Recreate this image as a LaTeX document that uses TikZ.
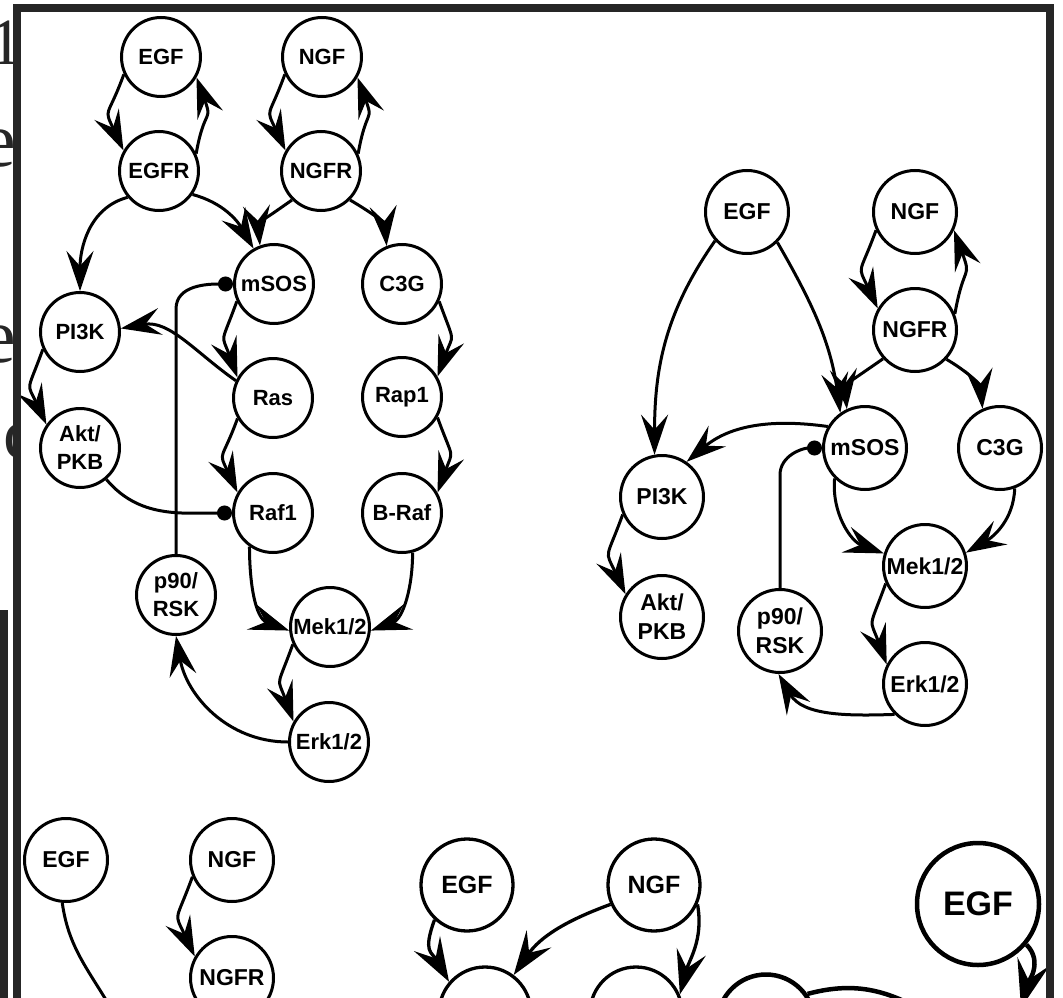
\documentclass[tikz,border=0pt]{standalone}
\usepackage{fontspec}
\setmainfont{Liberation Sans}
\newfontfamily\pagefont{Liberation Serif}
\usepackage{tikz}
\usetikzlibrary{arrows.meta}
\tikzset{>={Stealth[length=40pt,width=27pt,inset=15pt]}}
\definecolor{framegray}{RGB}{38,38,38}
\tikzset{
  prot/.style={circle, draw, line width=3pt, minimum size=79pt, inner sep=0pt, align=center,
    font=\bfseries\fontsize{22}{28}\selectfont},
  protB/.style={prot, minimum size=83pt, font=\bfseries\fontsize{23}{29}\selectfont},
  protD/.style={prot, line width=3.3pt, minimum size=92pt, font=\bfseries\fontsize{25}{30}\selectfont},
  protE/.style={prot, line width=4.5pt, minimum size=97pt, font=\bfseries\fontsize{34}{40}\selectfont},
  act/.style={->, line width=3pt},
  loop/.style={act, looseness=1.6},
  actD/.style={-{Stealth[length=44pt,width=30pt,inset=17pt]}, line width=3.3pt},
  inh/.style={-{Circle[length=15pt]}, line width=3pt},
  frag/.style={anchor=base west, inner sep=0pt, text=framegray}
}

\begin{document}
\begin{tikzpicture}[x=1pt, y=1pt]

  \useasboundingbox (0,0) rectangle (1063,-998);
  \fill[white] (0,0) rectangle (1063,-998);
  \clip (0,0) rectangle (1063,-998);

  % text of the page behind
  \begin{scope}
    \clip (0,0) rectangle (13,-998);
    \node[frag, font=\pagefont\fontsize{66}{66}\selectfont] (pg1) at (-10.6,-65) {1};
    \node[frag, anchor=base east, font=\pagefont\fontsize{78}{78}\selectfont] (pg2) at (16.5,-166) {e};
    \node[frag, anchor=base east, font=\pagefont\fontsize{78}{78}\selectfont] (pg3) at (16.5,-362) {e};
    \node[frag, font=\pagefont\fontsize{74}{74}\selectfont] (pg4) at (3,-458) {c};
  \end{scope}

  % EGF and NGF, top left
  \node[prot] (egfA)  at (161,-57)  {EGF};
  \node[prot] (ngfA)  at (322,-57)  {NGF};
  \node[prot] (egfrA) at (159,-171) {EGFR};
  \node[prot] (ngfrA) at (321,-171) {NGFR};
  \node[prot] (msosA) at (274,-284) {mSOS};
  \node[prot] (c3gA)  at (402,-284) {C3G};
  \node[prot] (pi3kA) at (80,-332)  {PI3K};
  \node[prot] (rasA)  at (273,-398) {Ras};
  \node[prot] (rap1A) at (402,-397) {Rap1};
  \node[prot] (aktA)  at (80,-448)  {Akt/\\PKB};
  \node[prot] (raf1A) at (273,-513) {Raf1};
  \node[prot] (brafA) at (402,-513) {B-Raf};
  \node[prot] (p90A)  at (176,-595) {p90/\\RSK};
  \node[prot] (mekA)  at (330,-627) {Mek1/2};
  \node[prot] (erkA)  at (329,-742) {Erk1/2};

  \draw[loop] (egfA.205) to[out=250,in=115] (egfrA.150); %% EGF->EGFR
  \draw[loop] (egfrA.25) to[out=80,in=290] (egfA.330);   %% EGFR->EGF
  \draw[loop] (ngfA.205) to[out=250,in=115] (ngfrA.150); %% NGF->NGFR
  \draw[loop] (ngfrA.25) to[out=80,in=290] (ngfA.330);   %% NGFR->NGF
  \draw[act] (egfrA.220) to[out=195,in=90] (pi3kA.90);
  \draw[act] (egfrA.325) to[out=-15,in=120] (msosA.120);
  \draw[act] (ngfrA.225) to[out=215,in=95] (msosA.110);
  \draw[act] (ngfrA.315) to[out=-30,in=95] (c3gA.112);
  \draw[loop] (msosA.205) to[out=250,in=110] (rasA.150);
  \draw[act] (rasA.155) to[out=145,in=10] (pi3kA.5);     %% Ras->PI3K
  \draw[loop] (c3gA.335) to[out=-70,in=70] (rap1A.30);
  \draw[loop] (pi3kA.205) to[out=250,in=115] (aktA.145);
  \draw[loop] (rasA.210) to[out=250,in=115] (raf1A.150);
  \draw[loop] (rap1A.330) to[out=-70,in=70] (brafA.30);
  \draw[inh] (aktA.310) to[out=-50,in=180] (raf1A.180);  %% Akt-|Raf1
  \draw[inh] (p90A.north) -- ++(0,245) to[out=90,in=180] (msosA.west);
  \draw[act] (raf1A.235) to[out=270,in=160] (mekA.185);
  \draw[act] (brafA.285) to[out=270,in=20] (mekA.355);
  \draw[loop] (mekA.205) to[out=250,in=110] (erkA.150);
  \draw[act] (erkA.180) to[out=180,in=280] (p90A.270);   %% Erk->p90

  % right
  \node[protB] (egfB)  at (747,-212) {EGF};
  \node[protB] (ngfB)  at (915,-212) {NGF};
  \node[protB] (ngfrB) at (915,-330) {NGFR};
  \node[protB] (msosB) at (865,-448) {mSOS};
  \node[protB] (c3gB)  at (1000,-448) {C3G};
  \node[protB] (pi3kB) at (662,-497) {PI3K};
  \node[protB] (aktB)  at (662,-617) {Akt/\\PKB};
  \node[protB] (p90B)  at (780,-631) {p90/\\RSK};
  \node[protB] (mekB)  at (925,-566) {Mek1/2};
  \node[protB] (erkB)  at (925,-684) {Erk1/2};

  \draw[loop] (ngfB.205) to[out=250,in=115] (ngfrB.150);
  \draw[loop] (ngfrB.22) to[out=80,in=290] (ngfB.335);
  \draw[act] (egfB.222) to[out=235,in=90] (pi3kB.100);
  \draw[act] (egfB.315) to[out=-60,in=98] (msosB.125);
  \draw[act] (ngfrB.222) to[out=215,in=95] (msosB.115);
  \draw[act] (ngfrB.317) to[out=-30,in=95] (c3gB.114);
  \draw[act] (msosB.150) to[out=172,in=40] (pi3kB.55);   %% mSOS->PI3K
  \draw[inh] (p90B.north) -- ++(0,113) to[out=90,in=180] (msosB.west);
  \draw[act] (msosB.225) to[out=265,in=160] (mekB.163);
  \draw[act] (c3gB.290) to[out=268,in=30] (mekB.18);
  \draw[loop] (pi3kB.204) to[out=250,in=115] (aktB.148);
  \draw[loop] (mekB.204) to[out=250,in=110] (erkB.153);
  \draw[act] (erkB.225) to[out=182,in=300] (p90B.268);

  % bottom left
  \node[protB] (egfC)  at (66,-860)  {EGF};
  \node[protB] (ngfC)  at (232,-860) {NGF};
  \node[protB] (ngfrC) at (232,-978) {NGFR};
  \coordinate (egfCend) at (112,-1010);
  \draw[line width=3pt] (egfC.265) to[out=-82,in=120] (egfCend);
  \draw[loop] (ngfC.203) to[out=250,in=115] (ngfrC.150);

  % bottom middle
  \node[protD] (egfD) at (467,-885)  {EGF};
  \node[protD] (ngfD) at (654,-885)  {NGF};
  \node[protD] (x1D)  at (485,-1013) {};
  \node[protD] (x2D)  at (636,-1013) {};
  \node[protE] (x3D)  at (766,-1023) {};
  \draw[actD, looseness=1.4] (egfD.227) to[out=250,in=120] (x1D.139);
  \draw[actD] (ngfD.204) to[out=200,in=55] (x1D.53);
  \draw[actD] (ngfD.336) to[out=-80,in=75] (x2D.23);
  \coordinate (x3Dend) at (925,-1012);
  \draw[line width=4.5pt] (x3D.35) to[out=15,in=150] (x3Dend);

  % bottom right
  \node[protE, minimum size=122pt] (egfE) at (978,-904) {EGF};
  \coordinate (egfEend) at (1021,-1008);
  \draw[-{Stealth[length=48pt,width=33pt,inset=19pt]}, line width=4.5pt]
    (egfE.320) to[out=-45,in=75] (egfEend);

  % frame
  \fill[framegray] (13,-4) rectangle (1054,-12);
  \fill[framegray] (13,-4) rectangle (21,-998);
  \fill[framegray] (1046,-4) rectangle (1054,-998);
  \fill[framegray] (0,-610) rectangle (8,-998);

\end{tikzpicture}
\end{document}
